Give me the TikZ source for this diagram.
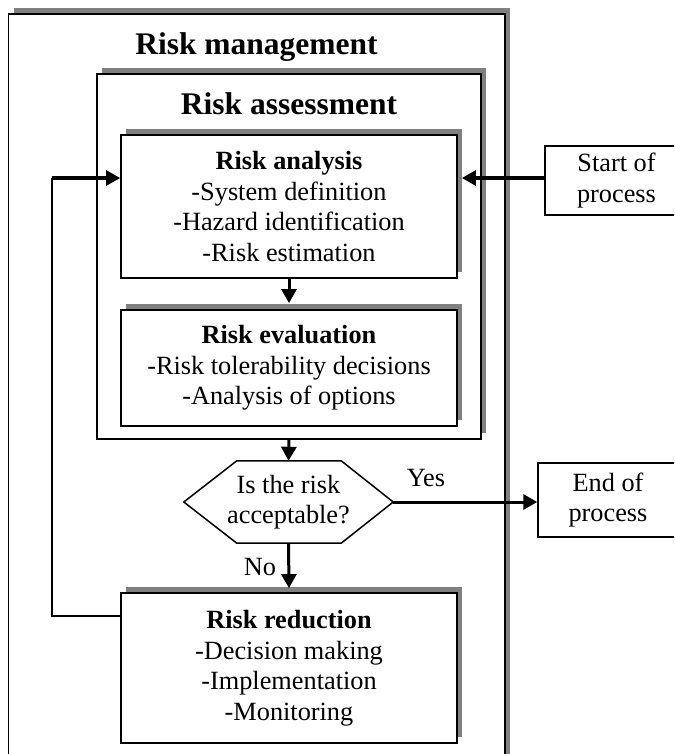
\documentclass[tikz,border=0pt]{standalone}
\usepackage{fontspec}
\setmainfont{Liberation Serif}
\usetikzlibrary{arrows.meta,shadows}
\newcommand\flowbody{\fontsize{26.3}{30.5}\selectfont}
\newcommand\flowtitle{\fontsize{31.5}{36}\selectfont\bfseries}
\begin{document}
\begin{tikzpicture}[x=1pt,y=-1pt,
  box/.style={draw,line width=1.8pt,fill=white,inner sep=0pt,align=center,font=\flowbody},
  shadowed/.style={box,general shadow={fill=gray,shadow xshift=5pt,shadow yshift=6pt}},
  flow/.style={line width=3pt,-{Triangle[length=14pt,width=15pt]}},
  plain/.style={line width=1.8pt},
  lbl/.style={inner sep=0pt,font=\flowbody},
  heading/.style={inner sep=0pt,anchor=base,font=\flowtitle}]
\useasboundingbox (0,0) rectangle (674,754);
\clip (0,0) rectangle (674,754);

% nested frames
\node[shadowed,minimum width=496.5pt,minimum height=760pt] (mgmt) at (256.75,394) {};
\node[heading] (mgmttitle) at (256.5,55) {Risk management};
\node[shadowed,minimum width=384pt,minimum height=365pt] (assess) at (289,256.5) {};
\node[heading] (assesstitle) at (289,115) {Risk assessment};

% process steps
\node[shadowed,minimum width=336pt,minimum height=143pt] (ana) at (289,206.5)
  {\textbf{Risk analysis}\\-System definition\\-Hazard identification\\-Risk estimation};
\node[shadowed,minimum width=336pt,minimum height=116pt] (eva) at (289,368)
  {\textbf{Risk evaluation}\\-Risk tolerability decisions\\-Analysis of options};
\node[shadowed,minimum width=336pt,minimum height=150pt] (red) at (289,668)
  {\textbf{Risk reduction}\\-Decision making\\-Implementation\\-Monitoring};

% decision
\node[lbl,align=center,minimum width=209pt,minimum height=82pt] (dec) at (288.5,502)
  {Is the risk\\acceptable?};
\draw[line width=1.5pt] (dec.west) -- ([xshift=53pt]dec.north west) -- ([xshift=-52pt]dec.north east)
  -- (dec.east) -- ([xshift=-52pt]dec.south east) -- ([xshift=53pt]dec.south west) -- cycle;

% start and end
\node[box,line width=1.5pt,minimum width=143pt,minimum height=69pt] (start) at (616.5,180.5) {Start of\\process};
\node[box,line width=1.5pt,minimum width=140pt,minimum height=74pt] (end) at (608,500) {End of\\process};

% connectors
\coordinate (fbtop) at (52,178);
\coordinate (fbbot) at (52,616);
\draw[plain] (red.west |- fbbot) -- (fbbot) -- (fbtop);
\draw[flow] (fbtop) -- (fbtop -| ana.west);
\draw[flow] (start.west |- fbtop) -- ([xshift=4pt]ana.east |- fbtop);
\draw[flow] (ana.south) -- ([yshift=6pt]eva.north);
\draw[flow] (assess.south) -- (dec.north);
\draw[flow] (dec.east) -- (dec.east -| end.west);
\draw[flow] (dec.south) -- ([yshift=4pt]red.north);

\node[lbl] (yes) at (426,478) {Yes};
\node[lbl] (no) at (260,567) {No};
\end{tikzpicture}
\end{document}
